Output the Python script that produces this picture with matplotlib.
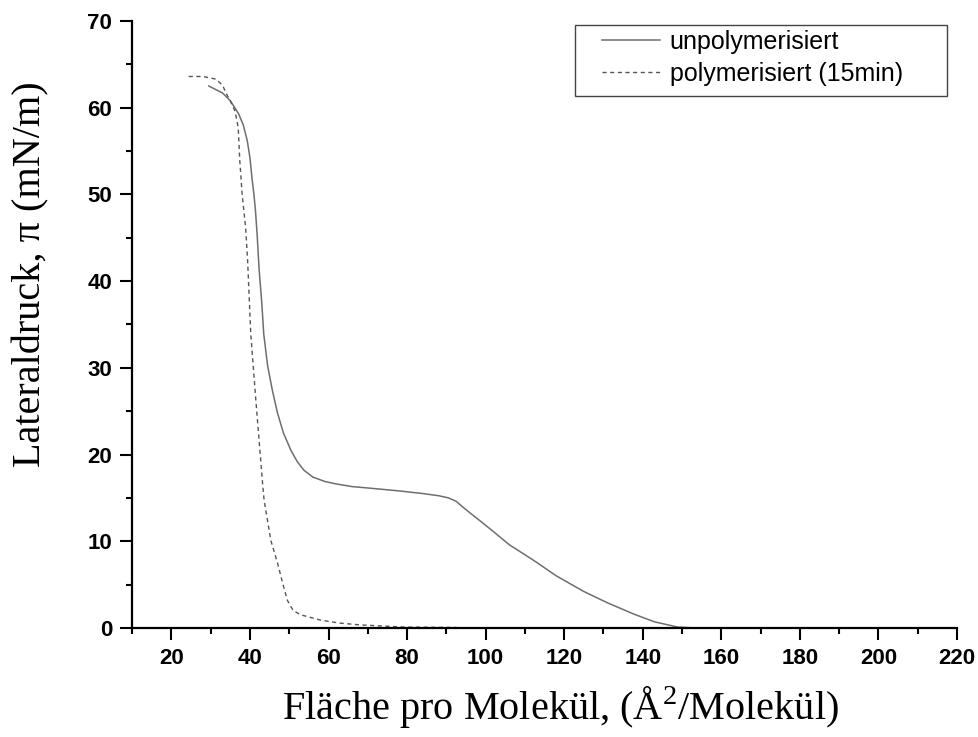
import matplotlib.pyplot as plt
from matplotlib.patches import Rectangle
from matplotlib.ticker import MultipleLocator

# Isotherm
area_unpoly = [29.5, 33, 35, 37.1, 38.3, 39.3, 40, 40.5, 41, 41.4, 41.8, 42.3, 43, 43.5, 44.5,
               45.7, 47, 48.5, 50.4, 52, 53.7, 56, 59, 62, 66, 71, 78, 84, 88, 90.5, 92.5,
               94.3, 96.2, 99, 102, 106, 112.2, 118, 125, 131, 137.7, 143, 148.9, 153]
pi_unpoly = [62.5, 61.7, 60.8, 59.3, 58.0, 56.2, 54.2, 51.9, 50.0, 48.1, 45.5, 41.5, 37.5, 33.9,
             30.2, 27.4, 24.8, 22.5, 20.5, 19.2, 18.2, 17.4, 16.9, 16.6, 16.3, 16.1, 15.8, 15.5,
             15.25, 15.0, 14.6, 13.9, 13.2, 12.2, 11.1, 9.6, 7.8, 6.0, 4.2, 2.9, 1.6, 0.7, 0.1, 0.0]

area_poly = [24.4, 28, 31.3, 33, 34, 35.2, 36.2, 37, 37.4, 38, 38.9, 39.4, 40.2, 41.5,
             43.2, 43.6, 44.5, 45.3, 47, 48.3, 49.5, 51, 53, 58, 63, 68, 79, 92.6]
pi_poly = [63.6, 63.6, 63.3, 62.6, 61.6, 60.6, 59.6, 57.7, 53.9, 50.0, 46.1, 42.3, 33.9, 26.2,
           16.7, 14.7, 12.3, 10.1, 7.5, 5.2, 3.2, 2.0, 1.5, 0.9, 0.55, 0.35, 0.1, 0.05]

x_ticks = list(range(20, 221, 20))
y_ticks = list(range(0, 71, 10))

plt.rcParams['mathtext.fontset'] = 'custom'
plt.rcParams['mathtext.rm'] = 'Liberation Serif'

fig = plt.figure(figsize=(9.79, 7.37), dpi=100)
ax = fig.add_axes([0.135, 0.148, 0.8425, 0.8235])

ax.plot(area_unpoly, pi_unpoly, color='#6e6e6e', lw=1.1, label='unpolymerisiert')
ax.plot(area_poly, pi_poly, color='#555555', lw=1.0, ls=(0, (3, 2.5)),
        label='polymerisiert (15min)')

ax.set_xlim(10, 220)
ax.set_ylim(0, 70)
ax.set_xticks(x_ticks)
ax.set_yticks(y_ticks)
ax.xaxis.set_minor_locator(MultipleLocator(10))
ax.yaxis.set_minor_locator(MultipleLocator(5))

for s in ['top', 'right']:
    ax.spines[s].set_visible(False)
for s in ['left', 'bottom']:
    ax.spines[s].set_linewidth(1.6)

ax.tick_params(which='major', direction='out', length=8.5, width=1.5, pad=6)
ax.tick_params(which='minor', direction='out', length=4.5, width=1.5)
for lab in ax.get_xticklabels() + ax.get_yticklabels():
    lab.set_fontfamily('Liberation Sans')
    lab.set_fontweight('bold')
    lab.set_fontsize(16)

ax.set_xlabel(r'Fläche pro Molekül, (Å$^\mathrm{2}$/Molekül)', family='Liberation Serif',
              fontsize=29)
ax.set_ylabel('Lateraldruck, π (mN/m)', family='Liberation Serif', fontsize=29)
ax.xaxis.set_label_coords(0.519, -0.093)
ax.yaxis.set_label_coords(-0.1006, 0.583)

# legend frame drawn separately so the entries can sit inset like the original
ax.add_patch(Rectangle((0.537, 0.8764), 0.451, 0.117, transform=ax.transAxes,
                       fill=False, ec='#444444', lw=1.0, clip_on=False))
leg = ax.legend(loc='upper left', bbox_to_anchor=(0.570, 0.985), frameon=False,
                borderaxespad=0, borderpad=0, handlelength=2.3, handletextpad=0.4,
                labelspacing=0.3, prop={'family': 'Liberation Sans', 'size': 18})

fig.savefig('out.png', dpi=100)
